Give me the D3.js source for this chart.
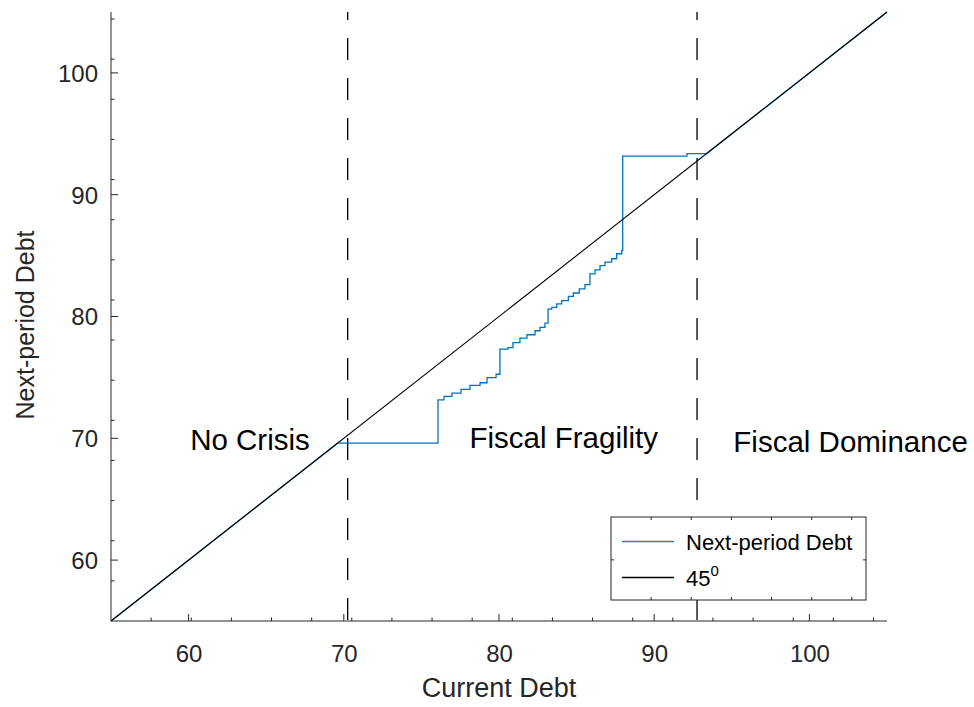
<!DOCTYPE html>
<html>
<head>
<meta charset="utf-8">
<script src="https://cdn.jsdelivr.net/npm/d3@7"></script>
<style>
  body { margin: 0; background: #fff; }
  text { font-family: "Liberation Sans", Arial, Helvetica, sans-serif; fill: #262626; }
</style>
</head>
<body>
<svg></svg>
<script>
const width = 974;
const height = 707;
const margin = {top: 12, right: 87, bottom: 86, left: 111};

// data
const domain = [55, 105];
const xTicks = [60, 70, 80, 90, 100];
const yTicks = [60, 70, 80, 90, 100];
const thresholds = [70.25, 92.76];
// next-period debt: follows 45 degree line up to 69.6, then flat, then stairs
const kinkStart = 69.6;
const stepX = [76.07, 76.46, 76.97, 77.55, 78.13, 78.78, 79.23, 79.81,
               80.06, 80.58, 80.9, 81.35, 81.8, 82.32, 82.64, 82.96,
               83.16, 83.4, 83.72, 84.04, 84.47, 84.79, 85.17, 85.54,
               85.86, 86.19, 86.51, 86.83, 87.26, 87.58, 87.91, 87.97, 92.11];
const stepLevel = [73.15, 73.45, 73.71, 74.02, 74.35, 74.56, 74.98, 75.26,
                   77.32, 77.45, 77.86, 78.22, 78.5, 78.83, 79.1, 79.46,
                   80.61, 80.75, 81.03, 81.3, 81.65, 81.93, 82.26, 82.62,
                   83.5, 83.83, 84.18, 84.46, 84.74, 85.15, 85.42, 93.17, 93.38];
const regions = [
  {label: 'No Crisis', x: 60.1, y: 69.0},
  {label: 'Fiscal Fragility', x: 78.1, y: 69.2},
  {label: 'Fiscal Dominance', x: 95.1, y: 68.9}
];

const svg = d3.select('svg')
  .attr('width', width)
  .attr('height', height);

const xScale = d3.scaleLinear()
  .domain(domain)
  .range([margin.left, width - margin.right]);
const yScale = d3.scaleLinear()
  .domain(domain)
  .range([height - margin.bottom, margin.top]);

// build blue path points
const bluePts = [[domain[0], domain[0]], [kinkStart, kinkStart]];
let prev = kinkStart;
stepX.forEach((x, i) => {
  bluePts.push([x, prev]);
  bluePts.push([x, stepLevel[i]]);
  prev = stepLevel[i];
});
bluePts.push([prev, prev]);
bluePts.push([domain[1], domain[1]]);

const line = d3.line()
  .x(d => xScale(d[0]))
  .y(d => yScale(d[1]));

const x0 = xScale(domain[0]), x1 = xScale(domain[1]);
const y0 = yScale(domain[0]), y1 = yScale(domain[1]);

// dashed thresholds
svg.selectAll('.thr')
  .data(thresholds)
  .enter()
  .append('line')
    .attr('x1', d => xScale(d))
    .attr('x2', d => xScale(d))
    .attr('y1', y1)
    .attr('y2', y0)
    .attr('stroke', '#000')
    .attr('stroke-width', 1.3)
    .attr('stroke-dasharray', '22,18')
    .attr('stroke-dashoffset', 14);

svg.append('path')
  .attr('d', line(bluePts))
  .attr('fill', 'none')
  .attr('stroke', '#0072BD')
  .attr('stroke-width', 1.3);

svg.append('path')
  .attr('d', line([[domain[0], domain[0]], [domain[1], domain[1]]]))
  .attr('fill', 'none')
  .attr('stroke', '#000')
  .attr('stroke-width', 1.1);

// axes
const axisColor = '#262626';
const minorStep = 40.13;

const xAxis = d3.axisBottom(xScale).tickValues(xTicks).tickSize(0).tickPadding(0);
const gx = svg.append('g')
  .attr('transform', `translate(0, ${y0})`)
  .call(xAxis);
gx.select('.domain').remove();
gx.selectAll('text')
  .attr('y', 41)
  .attr('dy', 0)
  .style('font-size', '24px')
  .style('font-family', '"Liberation Sans", Arial, sans-serif')
  .attr('fill', axisColor);

const yAxis = d3.axisLeft(yScale).tickValues(yTicks).tickSize(0).tickPadding(0);
const gy = svg.append('g')
  .attr('transform', `translate(${x0}, 0)`)
  .call(yAxis);
gy.select('.domain').remove();
gy.selectAll('text')
  .attr('x', -13)
  .attr('dy', '0.35em')
  .style('font-size', '24px')
  .style('font-family', '"Liberation Sans", Arial, sans-serif')
  .attr('fill', axisColor);

// axis lines
svg.append('line').attr('x1', x0).attr('x2', x1).attr('y1', y0).attr('y2', y0)
  .attr('stroke', axisColor).attr('stroke-width', 1);
svg.append('line').attr('x1', x0).attr('x2', x0).attr('y1', y0).attr('y2', y1)
  .attr('stroke', axisColor).attr('stroke-width', 1);

// major ticks (inward)
svg.selectAll('.xmaj').data(xTicks).enter().append('line')
  .attr('x1', d => xScale(d)).attr('x2', d => xScale(d))
  .attr('y1', y0).attr('y2', y0 - 7)
  .attr('stroke', axisColor);
svg.selectAll('.ymaj').data(yTicks).enter().append('line')
  .attr('y1', d => yScale(d)).attr('y2', d => yScale(d))
  .attr('x1', x0).attr('x2', x0 + 7)
  .attr('stroke', axisColor);

// minor ticks
const xMinor = d3.range(x0 + minorStep, x1, minorStep);
const yMinor = d3.range(y0 - minorStep, y1, -minorStep);
svg.selectAll('.xmin').data(xMinor).enter().append('line')
  .attr('x1', d => d).attr('x2', d => d)
  .attr('y1', y0).attr('y2', y0 - 3.5)
  .attr('stroke', axisColor);
svg.selectAll('.ymin').data(yMinor).enter().append('line')
  .attr('y1', d => d).attr('y2', d => d)
  .attr('x1', x0).attr('x2', x0 + 3.5)
  .attr('stroke', axisColor);

// axis titles
svg.append('text')
  .attr('x', (x0 + x1) / 2)
  .attr('y', 697)
  .style('text-anchor', 'middle')
  .style('font-size', '27px')
  .text('Current Debt');

svg.append('text')
  .attr('transform', 'rotate(-90)')
  .attr('x', -325)
  .attr('y', 34)
  .style('text-anchor', 'middle')
  .style('font-size', '25px')
  .text('Next-period Debt');

// region labels
svg.selectAll('.region')
  .data(regions)
  .enter()
  .append('text')
    .attr('x', d => xScale(d.x))
    .attr('y', d => yScale(d.y))
    .style('font-size', '29.5px')
    .style('fill', '#000')
    .text(d => d.label);

// legend
const lg = {x: 611, y: 517, w: 255, h: 83};
const legend = svg.append('g');
legend.append('rect')
  .attr('x', lg.x).attr('y', lg.y)
  .attr('width', lg.w).attr('height', lg.h)
  .attr('fill', '#fff')
  .attr('stroke', axisColor)
  .attr('stroke-width', 1);
const lgMinor = d3.range(lg.x + minorStep, lg.x + lg.w, minorStep);
legend.selectAll('.lgt').data(lgMinor).enter().append('line')
  .attr('x1', d => d).attr('x2', d => d)
  .attr('y1', lg.y).attr('y2', lg.y + 3)
  .attr('stroke', axisColor);
legend.selectAll('.lgb').data(lgMinor).enter().append('line')
  .attr('x1', d => d).attr('x2', d => d)
  .attr('y1', lg.y + lg.h).attr('y2', lg.y + lg.h - 3)
  .attr('stroke', axisColor);
legend.append('line')
  .attr('x1', lg.x).attr('x2', lg.x + 3)
  .attr('y1', lg.y + lg.h - minorStep).attr('y2', lg.y + lg.h - minorStep)
  .attr('stroke', axisColor);
legend.append('line')
  .attr('x1', lg.x + lg.w).attr('x2', lg.x + lg.w - 3)
  .attr('y1', lg.y + lg.h - minorStep).attr('y2', lg.y + lg.h - minorStep)
  .attr('stroke', axisColor);

const legendItems = [
  {label: 'Next-period Debt', color: '#1f86cc', sup: null},
  {label: '45', color: '#000', sup: '0'}
];
legendItems.forEach((d, i) => {
  const cy = lg.y + 24.5 + i * 36;
  legend.append('line')
    .attr('x1', lg.x + 11).attr('x2', lg.x + 63)
    .attr('y1', cy).attr('y2', cy)
    .attr('stroke', d.color)
    .attr('stroke-width', 1.4);
  const t = legend.append('text')
    .attr('x', lg.x + 75)
    .attr('y', cy + 8)
    .style('font-size', '22px')
    .style('fill', '#000')
    .text(d.label);
  if (d.sup) {
    t.append('tspan')
      .attr('dy', -10)
      .style('font-size', '15px')
      .text(d.sup);
  }
});
</script>
</body>
</html>
